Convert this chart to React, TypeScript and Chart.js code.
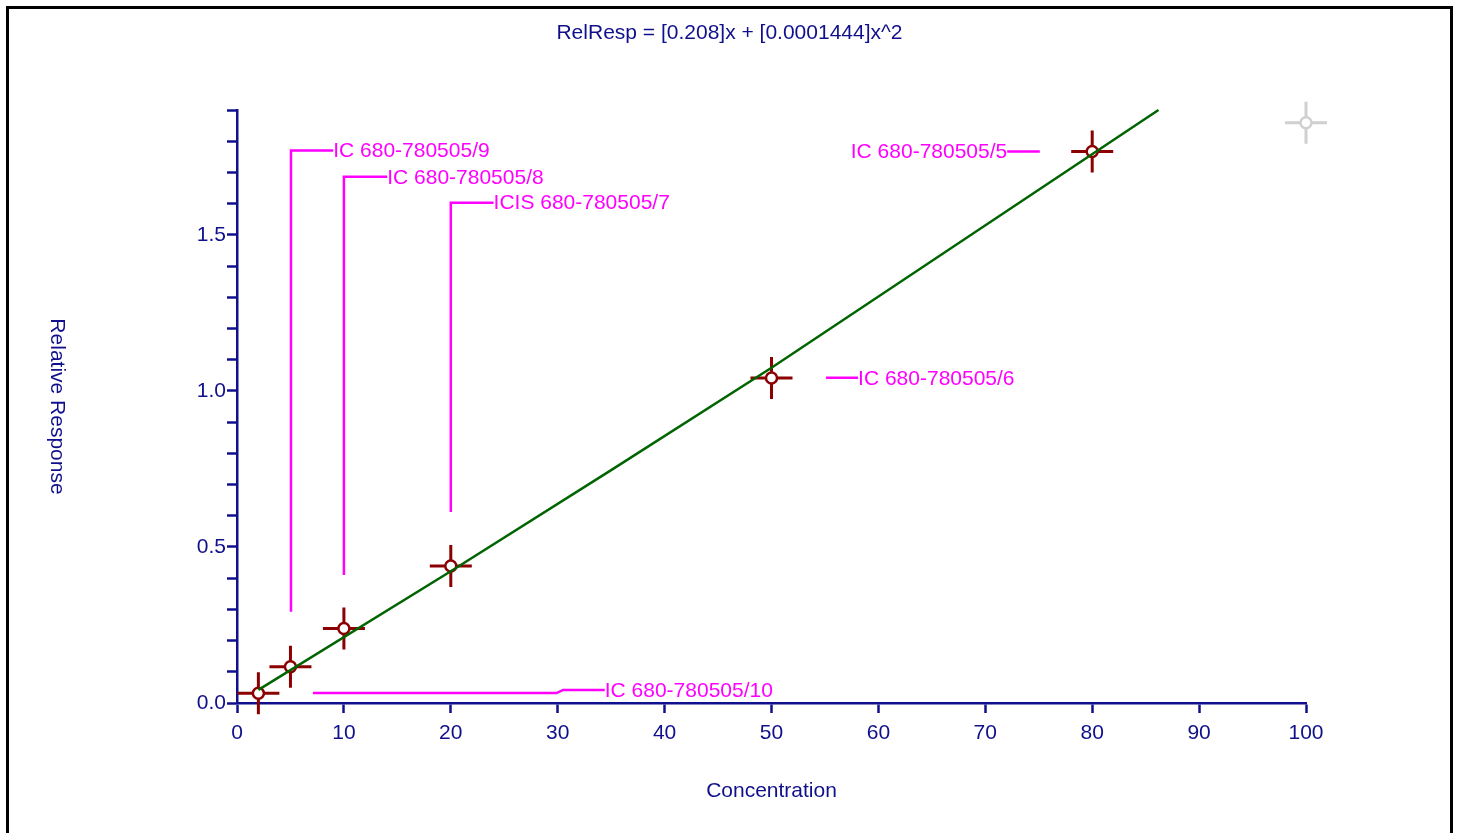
import React, { useEffect, useRef } from "react";
import { Chart, registerables } from "chart.js";

Chart.register(...registerables);

// ---- data ----
const concentrations = [2, 5, 10, 20, 50, 80];
const relResponses = [0.031, 0.116, 0.239, 0.439, 1.041, 1.767];
const excludedPoint = { x: 100, y: 1.859 };
const fitX = [2, 20, 35, 50, 86.2];
const fitY = [0.042, 0.422, 0.746, 1.074, 1.9];
const labelTexts = [
  "IC 680-780505/10",
  "IC 680-780505/9",
  "IC 680-780505/8",
  "ICIS 680-780505/7",
  "IC 680-780505/6",
  "IC 680-780505/5",
];
// leader lines (data coordinates) and text anchors
const leaderPaths: number[][][] = [
  [[7.1, 0.032], [29.9, 0.032], [30.5, 0.042], [34.4, 0.042]],
  [[5.05, 0.292], [5.05, 1.77], [9.0, 1.77]],
  [[10.0, 0.41], [10.0, 1.686], [14.05, 1.686]],
  [[20.0, 0.612], [20.0, 1.603], [24.0, 1.603]],
  [[55.1, 1.042], [58.1, 1.042]],
  [[72.05, 1.767], [75.1, 1.767]],
];
const labelAnchors: { x: number; y: number; align: CanvasTextAlign }[] = [
  { x: 34.4, y: 0.042, align: "left" },
  { x: 9.0, y: 1.77, align: "left" },
  { x: 14.05, y: 1.686, align: "left" },
  { x: 24.0, y: 1.603, align: "left" },
  { x: 58.1, y: 1.042, align: "left" },
  { x: 72.05, y: 1.767, align: "right" },
];
const titleText = "RelResp = [0.208]x + [0.0001444]x^2";
const xTitle = "Concentration";
const yTitle = "Relative Response";

const NAVY = "#10108c";
const FONT = "'Liberation Sans', Arial, sans-serif";
const FS = 21;

const overlayPlugin = {
  id: "overlay",
  beforeDraw(chart: any) {
    const ctx = chart.ctx;
    ctx.save();
    ctx.fillStyle = "#ffffff";
    ctx.fillRect(0, 0, chart.width, chart.height);
    ctx.strokeStyle = "#000000";
    ctx.lineWidth = 3;
    ctx.strokeRect(7.5, 7.5, 1444, 900);
    ctx.restore();
  },
  beforeDatasetsDraw(chart: any) {
    const ctx = chart.ctx;
    const xs = chart.scales.x;
    const ys = chart.scales.y;
    ctx.save();
    ctx.strokeStyle = "#ff00ff";
    ctx.lineWidth = 2.5;
    leaderPaths.forEach((path) => {
      ctx.beginPath();
      path.forEach((p, i) => {
        const px = xs.getPixelForValue(p[0]);
        const py = ys.getPixelForValue(p[1]);
        if (i === 0) ctx.moveTo(px, py);
        else ctx.lineTo(px, py);
      });
      ctx.stroke();
    });
    ctx.fillStyle = "#ff00ff";
    ctx.font = `${FS}px ${FONT}`;
    ctx.textBaseline = "middle";
    labelTexts.forEach((t, i) => {
      const a = labelAnchors[i];
      ctx.textAlign = a.align;
      ctx.fillText(t, xs.getPixelForValue(a.x), ys.getPixelForValue(a.y) + 1);
    });
    ctx.restore();
  },
  afterDraw(chart: any) {
    const ctx = chart.ctx;
    const area = chart.chartArea;
    ctx.save();
    ctx.fillStyle = NAVY;
    ctx.font = `${FS}px ${FONT}`;
    ctx.textAlign = "center";
    ctx.textBaseline = "middle";
    ctx.fillText(titleText, 729.5, 33.5);
    ctx.fillText(xTitle, (area.left + area.right) / 2, 791);
    ctx.translate(57, (area.top + area.bottom) / 2);
    ctx.rotate(Math.PI / 2);
    ctx.fillText(yTitle, 0, 0);
    ctx.restore();
  },
};

export default function App() {
  const ref = useRef<HTMLCanvasElement>(null);
  useEffect(() => {
    if (!ref.current) return;
    const chart = new Chart(ref.current, {
      type: "scatter",
      data: {
        datasets: [
          {
            type: "line",
            label: "fit",
            data: fitX.map((x, i) => ({ x, y: fitY[i] })),
            borderColor: "#006400",
            borderWidth: 2.5,
            pointRadius: 0,
            tension: 0,
            fill: false,
            clip: false,
            order: 0,
          },
          {
            label: "centers",
            data: concentrations.map((x, i) => ({ x, y: relResponses[i] })),
            pointStyle: "circle",
            pointRadius: 5.5,
            backgroundColor: "#ffffff",
            borderColor: "#8b0000",
            borderWidth: 2.5,
            clip: false,
            order: 1,
          },
          {
            label: "crosses",
            data: concentrations.map((x, i) => ({ x, y: relResponses[i] })),
            pointStyle: "cross",
            pointRadius: 21,
            borderColor: "#8b0000",
            borderWidth: 3,
            clip: false,
            order: 2,
          },
          {
            label: "excludedCenter",
            data: [excludedPoint],
            pointStyle: "circle",
            pointRadius: 5.5,
            backgroundColor: "#ffffff",
            borderColor: "#d0d0d0",
            borderWidth: 2.5,
            clip: false,
            order: 3,
          },
          {
            label: "excludedCross",
            data: [excludedPoint],
            pointStyle: "cross",
            pointRadius: 21,
            borderColor: "#d0d0d0",
            borderWidth: 3,
            clip: false,
            order: 4,
          },
        ],
      },
      options: {
        responsive: false,
        animation: false,
        events: [],
        layout: { padding: { left: 0, top: 110, right: 151, bottom: 0 } },
        plugins: {
          legend: { display: false },
          tooltip: { enabled: false },
          title: { display: false },
        },
        scales: {
          x: {
            type: "linear",
            min: 0,
            max: 100,
            afterFit(scale: any) {
              scale.height = 130;
            },
            border: { display: true, color: NAVY, width: 2.5 },
            grid: {
              display: true,
              drawOnChartArea: false,
              drawTicks: true,
              tickLength: 10,
              tickColor: NAVY,
              tickWidth: 2.5,
            },
            ticks: {
              stepSize: 10,
              autoSkip: false,
              maxRotation: 0,
              color: NAVY,
              padding: 8,
              font: { family: FONT, size: FS },
            },
          },
          y: {
            type: "linear",
            min: 0,
            max: 1.9,
            afterFit(scale: any) {
              scale.width = 237;
            },
            border: { display: true, color: NAVY, width: 2.5 },
            grid: {
              display: true,
              drawOnChartArea: false,
              drawTicks: true,
              tickLength: 10,
              tickColor: NAVY,
              tickWidth: 2.5,
            },
            ticks: {
              stepSize: 0.1,
              maxTicksLimit: 30,
              autoSkip: false,
              color: NAVY,
              padding: 1,
              font: { family: FONT, size: FS },
              callback: (v: any) => {
                const n = Number(v);
                return Math.abs(n * 2 - Math.round(n * 2)) < 1e-6 ? n.toFixed(1) : "";
              },
            },
          },
        },
      },
      plugins: [overlayPlugin],
    } as any);
    return () => chart.destroy();
  }, []);
  return (
    <div style={{ position: "absolute", left: 0, top: 0, width: 1457, height: 833 }}>
      <canvas ref={ref} width={1457} height={833} />
    </div>
  );
}
